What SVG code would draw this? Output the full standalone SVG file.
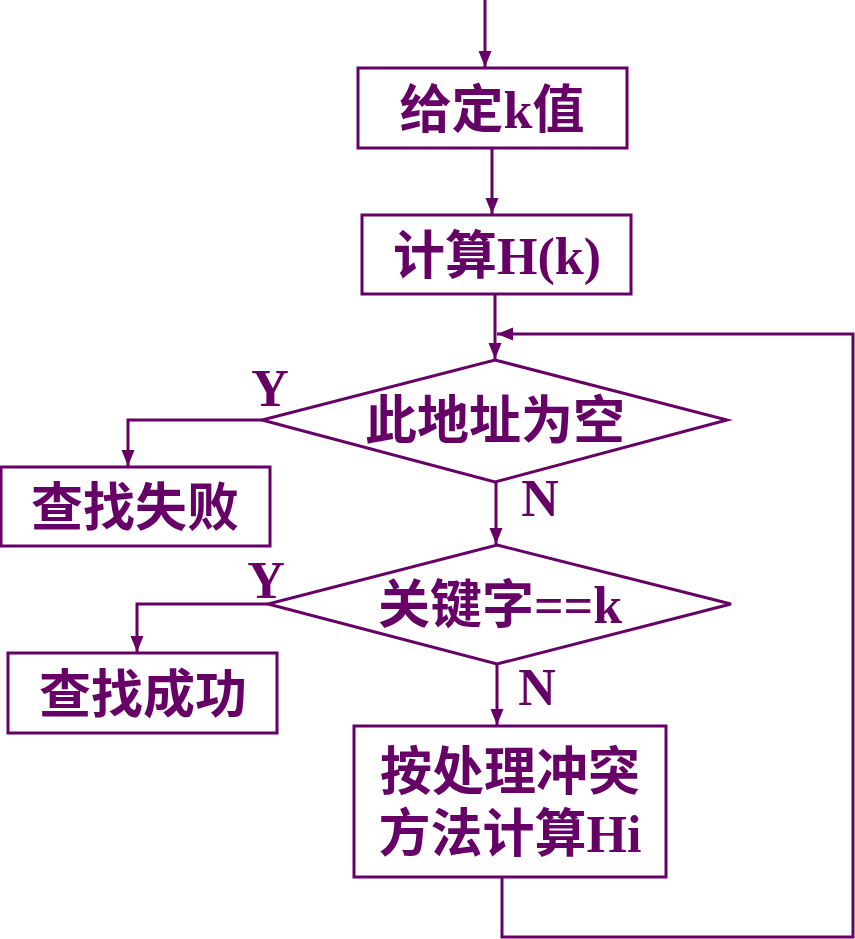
<svg xmlns="http://www.w3.org/2000/svg" width="855" height="939" viewBox="0 0 855 939">
<style>
.box{fill:#fff;stroke:#660066;stroke-width:3}
.ln{fill:none;stroke:#660066;stroke-width:3}
.t{font-family:"Liberation Serif","Noto Sans CJK SC",serif;font-weight:bold;font-size:52px;fill:#660066;text-anchor:middle}
.lb{font-family:"Liberation Serif",serif;font-weight:bold;font-size:52px;fill:#660066;text-anchor:middle}
</style>
<defs>
<marker id="ah" markerUnits="userSpaceOnUse" markerWidth="16" markerHeight="16" viewBox="0 0 16 16" refX="16" refY="8" orient="auto">
<path d="M0,1.5 L16,8 L0,14.5 Z" fill="#660066"/>
</marker>
</defs>
<rect width="855" height="939" fill="#fff"/>
<g id="connectors">
<line class="ln" x1="485" y1="0" x2="485" y2="67" marker-end="url(#ah)"/>
<line class="ln" x1="492" y1="148" x2="492" y2="214" marker-end="url(#ah)"/>
<line class="ln" x1="495" y1="294" x2="495" y2="359" marker-end="url(#ah)"/>
<polyline class="ln" points="262,420 128,420 128,466" marker-end="url(#ah)"/>
<line class="ln" x1="496" y1="482" x2="496" y2="544" marker-end="url(#ah)"/>
<polyline class="ln" points="268,604 137,604 137,652" marker-end="url(#ah)"/>
<line class="ln" x1="497" y1="664" x2="497" y2="725" marker-end="url(#ah)"/>
<polyline class="ln" points="502,877 502,937 853,937 853,334 497,334" marker-end="url(#ah)"/>
<text class="lb" x="270" y="406">Y</text>
<text class="lb" x="540" y="516">N</text>
<text class="lb" x="266" y="598">Y</text>
<text class="lb" x="537" y="705">N</text>
</g>
<g id="n1"><rect class="box" x="358" y="68" width="269" height="80"/><text class="t" x="492" y="128">给定k值</text></g>
<g id="n2"><rect class="box" x="362" y="215" width="269" height="79"/><text class="t" x="497" y="274">计算H(k)</text></g>
<g id="d1"><polygon class="box" points="495,360 727,420 495,482 262,420"/><text class="t" x="495" y="439">此地址为空</text></g>
<g id="n3"><rect class="box" x="1" y="467" width="269" height="79"/><text class="t" x="135" y="526">查找失败</text></g>
<g id="d2"><polygon class="box" points="497,545 731,604 497,664 268,604"/><text class="t" x="500" y="623">关键字==k</text></g>
<g id="n4"><rect class="box" x="8" y="653" width="269" height="80"/><text class="t" x="143" y="713">查找成功</text></g>
<g id="n5"><rect class="box" x="354" y="726" width="312" height="151"/><text class="t" x="510" y="790">按处理冲突</text><text class="t" x="510" y="852">方法计算Hi</text></g>
</svg>
